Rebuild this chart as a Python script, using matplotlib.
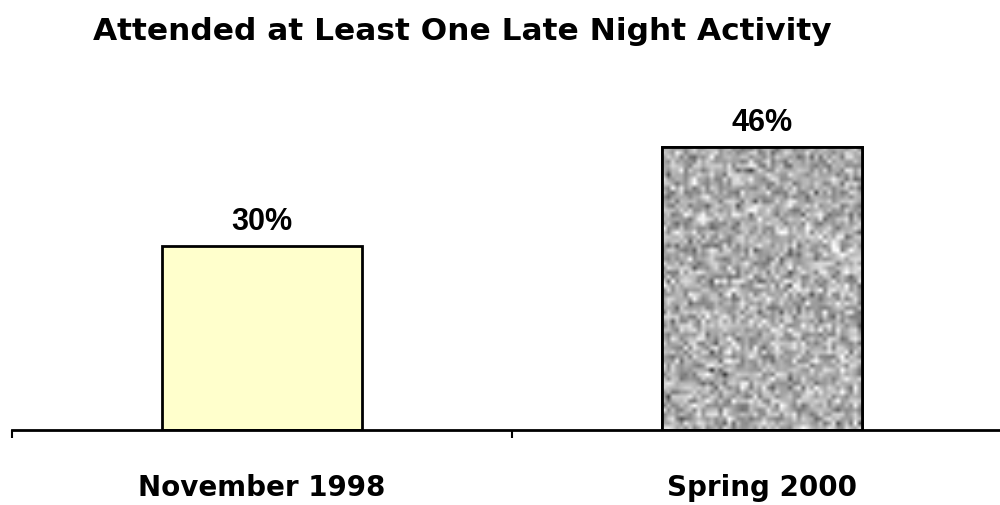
import numpy as np
import matplotlib.pyplot as plt

# survey results
categories = ['November 1998', 'Spring 2000']
percents = [30, 46]
title = 'Attended at Least One Late Night Activity'

wide_font = ['DejaVu Sans']
narrow_font = ['Liberation Sans', 'DejaVu Sans']

fig = plt.figure(figsize=(10, 5.06), dpi=100)
ax = fig.add_axes([0.012, 0.148, 0.988, 0.608])

x = np.arange(len(categories))
bars = ax.bar(x, percents, width=0.4, color=['#ffffcc', '#a8a8a8'],
              edgecolor='black', linewidth=2, zorder=3)

# granite-style fill for the second bar
rng = np.random.default_rng(7)
grain = rng.normal(0.68, 0.14, size=(64, 46)).clip(0.05, 1.0)
b = bars[1]
img = ax.imshow(grain, cmap='gray', vmin=0, vmax=1, interpolation='bilinear',
                extent=(b.get_x(), b.get_x() + b.get_width(), 0, b.get_height()),
                aspect='auto', zorder=3.5)
img.set_clip_path(b)
edge = plt.Rectangle((b.get_x(), 0), b.get_width(), b.get_height(), fill=False,
                     edgecolor='black', linewidth=2, zorder=4)
ax.add_patch(edge)

for xi, v in zip(x, percents):
    ax.text(xi, v + 2.7, f'{v}%', ha='center', va='baseline', fontsize=22,
            fontweight='bold', family=narrow_font)

for s in ['top', 'right', 'left']:
    ax.spines[s].set_visible(False)
ax.spines['bottom'].set_linewidth(2)
ax.spines['bottom'].set_zorder(5)
ax.set_yticks([])

ax.set_xticks(x)
ax.set_xticklabels(categories, fontsize=20, fontweight='bold', family=wide_font)
ax.tick_params(axis='x', which='major', length=0, pad=31)
ax.set_xticks([-0.5, 0.5, 1.5], minor=True)
ax.tick_params(axis='x', which='minor', direction='out', length=6, width=1.5)

# limits last, set_xticks would widen them
ax.set_xlim(-0.5, 1.476)
ax.set_ylim(0, 50)

fig.text(0.093, 0.937, title, ha='left', va='center', fontsize=22.5,
         fontweight='bold', family=wide_font)

fig.savefig('out.png', dpi=100, facecolor='white')
